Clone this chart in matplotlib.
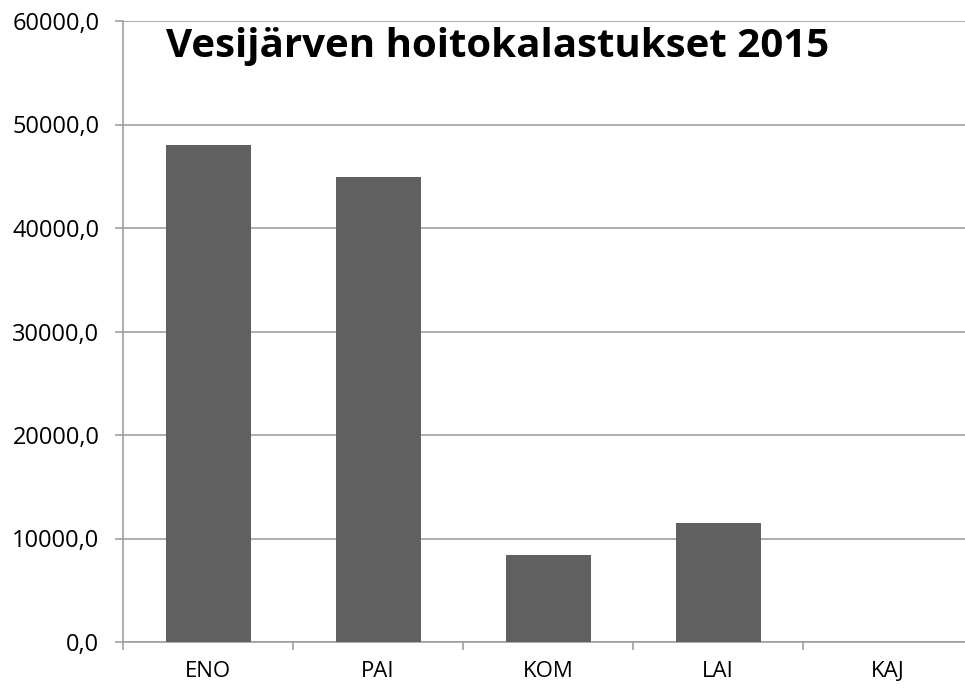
import matplotlib.pyplot as plt
from matplotlib.ticker import FuncFormatter, FixedLocator

categories = ["ENO", "PAI", "KOM", "LAI", "KAJ"]
values = [48050, 44950, 8400, 11500, 0]
yticks = [0, 10000, 20000, 30000, 40000, 50000, 60000]

plt.rcParams['font.family'] = ['Open Sans', 'DejaVu Sans']

fig = plt.figure(figsize=(9.65, 6.9), dpi=100)
ax = fig.add_axes([123/965, 1-642/690, 850/965, 621/690])

x = range(len(categories))
ax.bar(x, values, width=0.5, color='#606060', zorder=3)

ax.set_xlim(-0.5, len(categories) - 0.5)
ax.set_ylim(0, 60000)
ax.set_yticks(yticks)
ax.yaxis.set_major_formatter(FuncFormatter(lambda v, p: f"{v:.1f}".replace('.', ',')))
ax.set_xticks(list(x))
ax.set_xticklabels(categories)
ax.xaxis.set_minor_locator(FixedLocator([i - 0.5 for i in range(len(categories) + 1)]))

ax.grid(axis='y', color='#a0a0a0', linewidth=1.2, zorder=0)
for s in ['top', 'right']:
    ax.spines[s].set_visible(False)
for s in ['left', 'bottom']:
    ax.spines[s].set_color('#a0a0a0')
    ax.spines[s].set_linewidth(1.2)

ax.tick_params(axis='y', length=6, color='#a0a0a0', width=1.2, labelsize=17, pad=11)
ax.tick_params(axis='x', which='major', length=0, labelsize=16, pad=14)
ax.tick_params(axis='x', which='minor', length=6, color='#a0a0a0', width=1.2)

fig.text(498/965, 1-47/690, "Vesijärven hoitokalastukset 2015", ha='center', va='center',
         fontsize=29, fontweight='bold')

fig.savefig('out.png', dpi=100)
